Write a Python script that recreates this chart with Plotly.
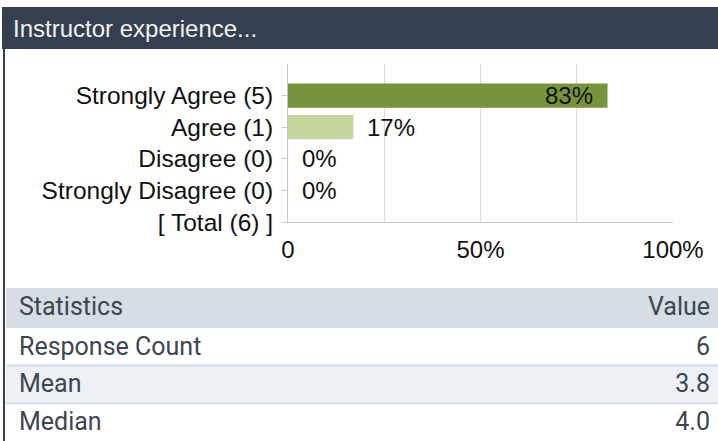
import plotly.graph_objects as go

# ---- survey data ----
answer_labels = ["Strongly Agree", "Agree", "Disagree", "Strongly Disagree"]
answer_counts = [5, 1, 0, 0]
answer_pct = [83, 17, 0, 0]
total_responses = 6
bar_colors = ["#77933c", "#c3d69b", "#c3d69b", "#c3d69b"]

x_tickvals = [0, 25, 50, 75, 100]
x_ticktext = ["0", "", "50%", "", "100%"]

stat_names = ["Response Count", "Mean", "Median"]
stat_values = ["6", "3.8", "4.0"]

title_text = "Instructor experience..."

# ---- page geometry (pixels) ----
W, H = 718, 441


def px_x(x):
    return x / W


def px_y(y):
    return 1 - y / H


categories = [f"{lab} ({n})" for lab, n in zip(answer_labels, answer_counts)]
categories.append(f"[ Total ({total_responses}) ]")

label_font = dict(family="Liberation Sans, Arial, sans-serif", size=24, color="#111111")
cat_font = dict(family="Liberation Sans, Arial, sans-serif", size=24.5, color="#111111")
table_font = dict(family="Roboto, sans-serif", size=25, color="#3b4652")

fig = go.Figure()

fig.add_trace(go.Bar(
    x=answer_pct,
    y=categories[:len(answer_pct)],
    orientation="h",
    width=0.77,
    marker=dict(color=bar_colors, line=dict(width=0)),
    hoverinfo="skip",
    showlegend=False,
))

# percentage labels: inside the long bar, outside the short ones
annotations = []
for cat, p in zip(categories, answer_pct):
    inside = p > 50
    annotations.append(dict(
        x=p, y=cat, xref="x", yref="y",
        text=f"{p}%", showarrow=False,
        xanchor="right" if inside else "left",
        xshift=-13 if inside else 12,
        font=label_font,
    ))

# statistics table
n_rows = len(stat_names)
row_h = 37.6
row_fill = ["#ffffff" if i % 2 == 0 else "#edf1f5" for i in range(n_rows)]
fig.add_trace(go.Table(
    domain=dict(x=[px_x(6), 1], y=[0, px_y(288)]),
    columnwidth=[5, 497, 210],
    header=dict(
        values=["", "Statistics", "Value"],
        align=["left", "left", "right"],
        fill=dict(color="#d6dee3"),
        line=dict(width=0, color="rgba(0,0,0,0)"),
        font=table_font,
        height=40,
    ),
    cells=dict(
        values=[[""] * n_rows, stat_names, stat_values],
        align=["left", "left", "right"],
        fill=dict(color=[row_fill] * 3),
        line=dict(width=0, color="rgba(0,0,0,0)"),
        font=table_font,
        height=row_h,
    ),
))

shapes = [
    # title bar
    dict(type="rect", xref="paper", yref="paper",
         x0=px_x(2), x1=1, y0=px_y(49), y1=px_y(7),
         fillcolor="#353f4d", line=dict(width=0), layer="below"),
    # left frame line
    dict(type="line", xref="paper", yref="paper",
         x0=px_x(4), x1=px_x(4), y0=0, y1=px_y(49),
         line=dict(color="#353f4d", width=2)),
]
# row separators in the table
for k in range(1, n_rows):
    yy = 328 + row_h * k
    shapes.append(dict(type="line", xref="paper", yref="paper", layer="above",
                       x0=px_x(6), x1=1, y0=px_y(yy), y1=px_y(yy),
                       line=dict(color="#d6dee3", width=2)))

annotations.append(dict(
    x=px_x(11), y=px_y(28), xref="paper", yref="paper",
    text=title_text, showarrow=False, xanchor="left", yanchor="middle",
    font=dict(family="Liberation Sans, Arial, sans-serif", size=24, color="#f2f2f2"),
))

fig.update_layout(
    width=W, height=H, autosize=False,
    margin=dict(l=0, r=0, t=0, b=0, pad=0),
    paper_bgcolor="white", plot_bgcolor="white",
    shapes=shapes, annotations=annotations,
    xaxis=dict(
        domain=[px_x(288), px_x(673)],
        range=[0, 100],
        automargin=False,
        tickvals=x_tickvals, ticktext=x_ticktext,
        showgrid=True, gridcolor="#d9d9d9", gridwidth=1,
        showline=True, linecolor="#c8c8c8", linewidth=1,
        zeroline=False, ticks="",
        ticklabelstandoff=6,
        tickfont=label_font,
        fixedrange=True,
    ),
    yaxis=dict(
        domain=[px_y(222), px_y(64)],
        type="category",
        automargin=False,
        categoryorder="array", categoryarray=categories,
        range=[len(categories) - 1, -1],
        showgrid=False, zeroline=False,
        showline=True, linecolor="#c8c8c8", linewidth=1,
        ticks="outside", ticklen=5, tickcolor="#c8c8c8",
        ticklabelstandoff=4,
        tickfont=cat_font,
        fixedrange=True,
    ),
)

fig.write_html("out.html")
